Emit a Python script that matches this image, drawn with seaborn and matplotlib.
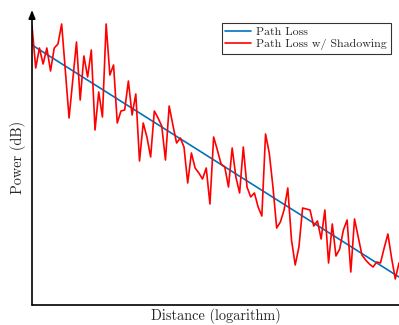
import numpy as np
import pandas as pd
import matplotlib
matplotlib.use("Agg")
import matplotlib.pyplot as plt
import seaborn as sns

# log-distance sample index (x axis is distance on a log scale)
log_distance = np.arange(100)

# received power with shadowing (dB)
shadowing_db = [
    -13, -34, -24, -32, -24, -35.5, -24, -22, -12, -35.5,
    -59, -40, -21, -50, -28, -38.5, -25, -65, -46, -58.5,
    -12, -37.5, -32.5, -61.5, -55.5, -55, -40.5, -57.5, -47, -80.5,
    -61.5, -68.5, -78.5, -55.5, -59, -63, -80, -53, -62.5, -71.5,
    -69, -73.5, -91.5, -76.5, -84, -86.5, -89.5, -84, -102, -68.5,
    -75, -82, -83.5, -93.5, -74, -88.5, -96.5, -73.5, -93.5, -98.5,
    -96.5, -103.5, -108, -67, -76.5, -93.5, -114, -111, -105, -94,
    -120, -132.5, -123.5, -104, -104.5, -105, -113, -110.5, -119.5, -105,
    -131.5, -112, -128, -124.5, -115, -110, -136, -109.5, -118.5, -127.5,
    -130, -132, -133.5, -131, -131.5, -124, -117, -129, -139.5, -131.5,
]

# deterministic path loss (straight line on log-distance axis): endpoints
path_loss_x = [0, 99]
path_loss_db = [-22.5, -138.5]

df_shadow = pd.DataFrame({"x": log_distance, "y": shadowing_db})
df_pl = pd.DataFrame({"x": path_loss_x, "y": path_loss_db})

sns.set_style("white")
plt.rcParams["font.family"] = ["cmr10", "DejaVu Serif"]
plt.rcParams["axes.formatter.use_mathtext"] = True

fig = plt.figure(figsize=(3.99, 3.25), dpi=100)
ax = fig.add_axes([32 / 399, 20 / 325, 367 / 399, 295 / 325])

sns.lineplot(data=df_pl, x="x", y="y", ax=ax, color="#0072BD", linewidth=1.2,
             label="Path Loss")
sns.lineplot(data=df_shadow, x="x", y="y", ax=ax, color="#FF0000", linewidth=1.2,
             label="Path Loss w/ Shadowing")

ax.set_xlim(0, 99)
ax.set_ylim(-152.5, -5)
ax.set_xticks([])
ax.set_yticks([])
for s in ax.spines.values():
    s.set_visible(False)

ax.annotate("", xy=(0, 1.0), xytext=(0, 0), xycoords="axes fraction",
            arrowprops=dict(arrowstyle="-|>,head_length=0.5,head_width=0.2",
                            color="black", lw=1.2, shrinkA=0, shrinkB=0))
ax.annotate("", xy=(1.03, 0), xytext=(0, 0), xycoords="axes fraction",
            arrowprops=dict(arrowstyle="-|>,head_length=0.5,head_width=0.2",
                            color="black", lw=1.2, shrinkA=0, shrinkB=0),
            annotation_clip=False)

ax.set_xlabel("Distance (logarithm)", fontsize=10.3, labelpad=2)
ax.set_ylabel("Power (dB)", fontsize=10.3, labelpad=4)

leg = ax.legend(loc="upper right", bbox_to_anchor=(0.977, 0.955), fontsize=8.6,
                frameon=True, fancybox=False, handlelength=2.2, handletextpad=0.4,
                borderpad=0.3, labelspacing=0.15, borderaxespad=0)
leg.get_frame().set_edgecolor("black")
leg.get_frame().set_linewidth(0.8)

fig.savefig("out.png", dpi=100)
